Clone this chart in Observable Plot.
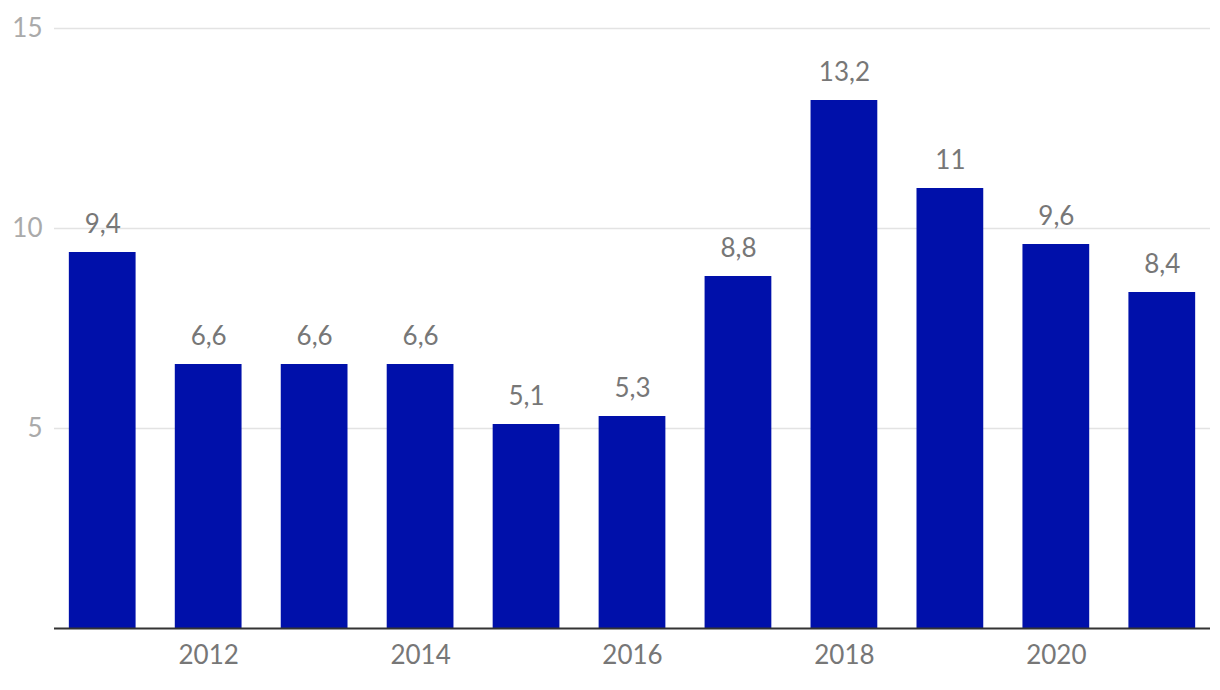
<!DOCTYPE html>
<html>
<head>
<meta charset="utf-8">
<script src="https://cdn.jsdelivr.net/npm/d3@7"></script>
<script src="https://cdn.jsdelivr.net/npm/@observablehq/plot@0.6"></script>
<style>
  html, body { margin: 0; padding: 0; background: #fff; }
  #chart { width: 1220px; height: 690px; }
  svg { font-family: Lato, "Noto Sans", sans-serif; }
</style>
</head>
<body>
<div id="chart"></div>
<script>
const years = [2011, 2012, 2013, 2014, 2015, 2016, 2017, 2018, 2019, 2020, 2021];
const values = [9.4, 6.6, 6.6, 6.6, 5.1, 5.3, 8.8, 13.2, 11, 9.6, 8.4];
const xTicks = [2012, 2014, 2016, 2018, 2020];
const yTicks = [5, 10, 15];

const data = years.map((y, i) => ({year: y, value: values[i]}));
const fmt = v => String(v).replace(".", ",");

const chart = Plot.plot({
  width: 1220,
  height: 690,
  marginLeft: 54,
  marginRight: 10,
  marginTop: 28,
  marginBottom: 62,
  style: {fontFamily: "Lato, 'Noto Sans', sans-serif", background: "#fff"},
  x: {type: "band", domain: years, paddingInner: 0.37, paddingOuter: 0.14, round: false, label: null},
  y: {domain: [0, 15], label: null},
  marks: [
    Plot.ruleY(yTicks, {stroke: "#e3e3e3", strokeWidth: 1.5}),
    Plot.axisY({ticks: yTicks, tickSize: 0, tickPadding: 12, fontSize: 26, fill: "#aaaaaa", label: null}),
    Plot.axisX({ticks: xTicks, tickFormat: d => String(d), tickSize: 0, tickPadding: 17, fontSize: 26, fill: "#777777", label: null}),
    Plot.barY(data, {x: "year", y: "value", fill: "#0010aa"}),
    Plot.ruleY([0], {stroke: "#333333", strokeWidth: 2}),
    Plot.text(data, {x: "year", y: "value", text: d => fmt(d.value), dy: -28, fontSize: 26, fill: "#777777"})
  ]
});
document.getElementById("chart").appendChild(chart);
</script>
</body>
</html>
